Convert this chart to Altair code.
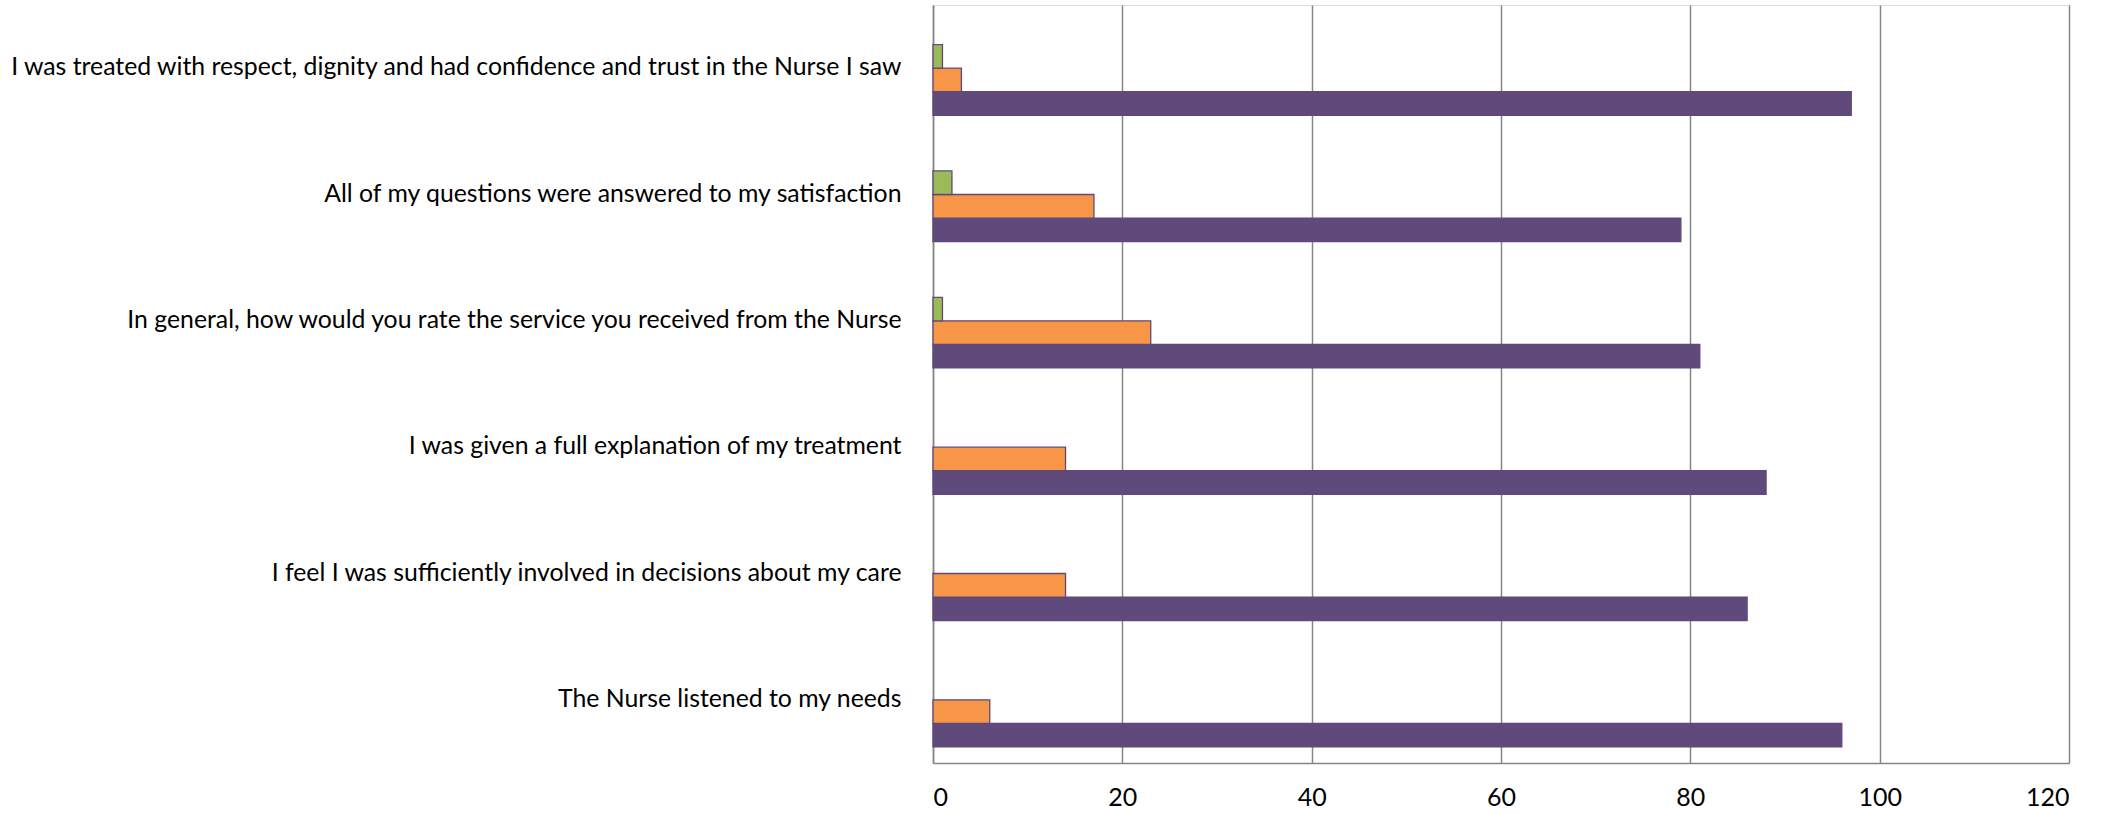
import altair as alt
import pandas as pd

questions = [
    "I was treated with respect, dignity and had confidence and trust in the Nurse I saw",
    "All of my questions were answered to my satisfaction",
    "In general, how would you rate the service you received from the Nurse",
    "I was given a full explanation of my treatment",
    "I feel I was sufficiently involved in decisions about my care",
    "The Nurse listened to my needs",
]
series = ["Yes, definitely", "Yes, to some extent", "No", "Don't know"]
yes_vals = [97, 79, 81, 88, 86, 96]
some_vals = [3, 17, 23, 14, 14, 6]
no_vals = [1, 2, 1, 0, 0, 0]
dk_vals = [0, 0, 0, 0, 0, 0]
colors = ["#604A7B", "#F79646", "#9BBB59", "#4BACC6"]
x_ticks = [0, 20, 40, 60, 80, 100, 120]

rows = []
for i, q in enumerate(questions):
    for s, vals in zip(series, [yes_vals, some_vals, no_vals, dk_vals]):
        if vals[i] > 0:
            rows.append({"question": q, "series": s, "value": vals[i]})
df = pd.DataFrame(rows)

offset_order = [series[3], series[2], series[1], series[0]]

chart = alt.Chart(df).mark_bar(stroke="#5F497A", strokeWidth=1.3).encode(
    x=alt.X("value:Q", scale=alt.Scale(domain=[0, 120], nice=False),
            axis=alt.Axis(values=x_ticks, title=None, grid=True, gridColor="#868686",
                          gridWidth=1.5, domainColor="#868686", domainWidth=1.5,
                          ticks=False, labelFontSize=25, labelFont="Lato",
                          labelColor="#000000", labelPadding=22)),
    y=alt.Y("question:N", sort=questions,
            scale=alt.Scale(paddingInner=0.255, paddingOuter=0.1275),
            axis=alt.Axis(title=None, ticks=False, labelFontSize=24.8, labelFont="Lato",
                          labelColor="#000000", labelPadding=32, labelLimit=1000,
                          domainColor="#868686", domainWidth=1.5, grid=False)),
    yOffset=alt.YOffset("series:N", scale=alt.Scale(domain=offset_order, paddingInner=0, paddingOuter=0)),
    color=alt.Color("series:N", scale=alt.Scale(domain=series, range=colors), legend=None),
).properties(
    width=1136, height=758,
    padding={"left": 933, "top": 5, "right": 49, "bottom": 50},
    autosize=alt.AutoSizeParams(type="none"),
).configure_view(
    fill="#EBE9EF", stroke=None
).configure(background="#FFFFFF")

chart.save("out.html", embed_options={"renderer": "svg", "actions": False})
